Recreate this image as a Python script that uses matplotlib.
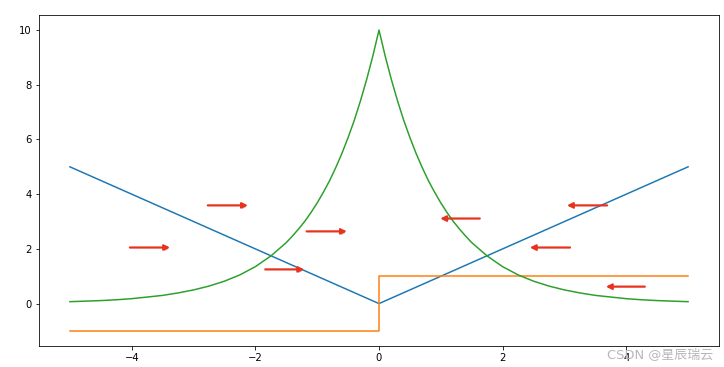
import matplotlib.pyplot as plt
import matplotlib.patheffects as pe

# blue: |x|
abs_x = [-5, 0, 5]
abs_y = [5, 0, 5]

# orange: step
step_x = [-5, 0, 0, 5]
step_y = [-1, -1, 1, 1]

# green: peak curve (right half, mirrored for the left)
half_x = [0, 0.1, 0.2, 0.3, 0.4, 0.5, 0.6, 0.7, 0.8, 0.9, 1.0, 1.1, 1.2, 1.3, 1.4, 1.5,
          1.75, 2, 2.25, 2.5, 2.75, 3, 3.25, 3.5, 3.75, 4, 4.25, 4.5, 4.75, 5]
half_y = [10, 9.05, 8.19, 7.41, 6.70, 6.07, 5.49, 4.97, 4.49, 4.07, 3.68, 3.33, 3.01, 2.73,
          2.47, 2.23, 1.74, 1.35, 1.05, 0.82, 0.64, 0.50, 0.39, 0.30, 0.24, 0.18, 0.14,
          0.11, 0.09, 0.07]
peak_x = [-v for v in half_x[::-1]] + half_x[1:]
peak_y = half_y[::-1] + half_y[1:]

# red arrows: (tail x, head x, y)
arrows = [(-4.03, -3.38, 2.05), (-2.77, -2.12, 3.59), (-1.84, -1.21, 1.25),
          (-1.17, -0.52, 2.64), (1.63, 0.99, 3.11), (3.09, 2.44, 2.05),
          (3.69, 3.04, 3.59), (4.30, 3.67, 0.62)]

fig = plt.figure(figsize=(724 / 72, 367 / 72), dpi=72)
ax = fig.add_axes([39 / 724, 21 / 367, 680 / 724, 331 / 367])

ax.plot(abs_x, abs_y, color='tab:blue', lw=1.5)
ax.plot(step_x, step_y, color='tab:orange', lw=1.5)
ax.plot(peak_x, peak_y, color='tab:green', lw=1.5)

for x0, x1, y in arrows:
    ax.annotate('', xy=(x1, y), xytext=(x0, y),
                arrowprops=dict(arrowstyle='-|>', color='#e8321e', lw=2.2,
                                mutation_scale=11, shrinkA=0, shrinkB=0,
                                path_effects=[pe.withSimplePatchShadow(offset=(1, -1.5), shadow_rgbFace='#888888', alpha=0.5)]))

ax.set_xlim(-5.5, 5.5)
ax.set_ylim(-1.55, 10.55)
ax.set_xticks([-4, -2, 0, 2, 4])
ax.set_yticks([0, 2, 4, 6, 8, 10])

fig.text(0.985, 0.015, 'CSDN @星辰瑞云', ha='right', va='bottom', color='#b8b8b8',
         fontsize=13, family=['DejaVu Sans', 'Noto Sans CJK SC'])

fig.savefig('out.png', dpi=72)
